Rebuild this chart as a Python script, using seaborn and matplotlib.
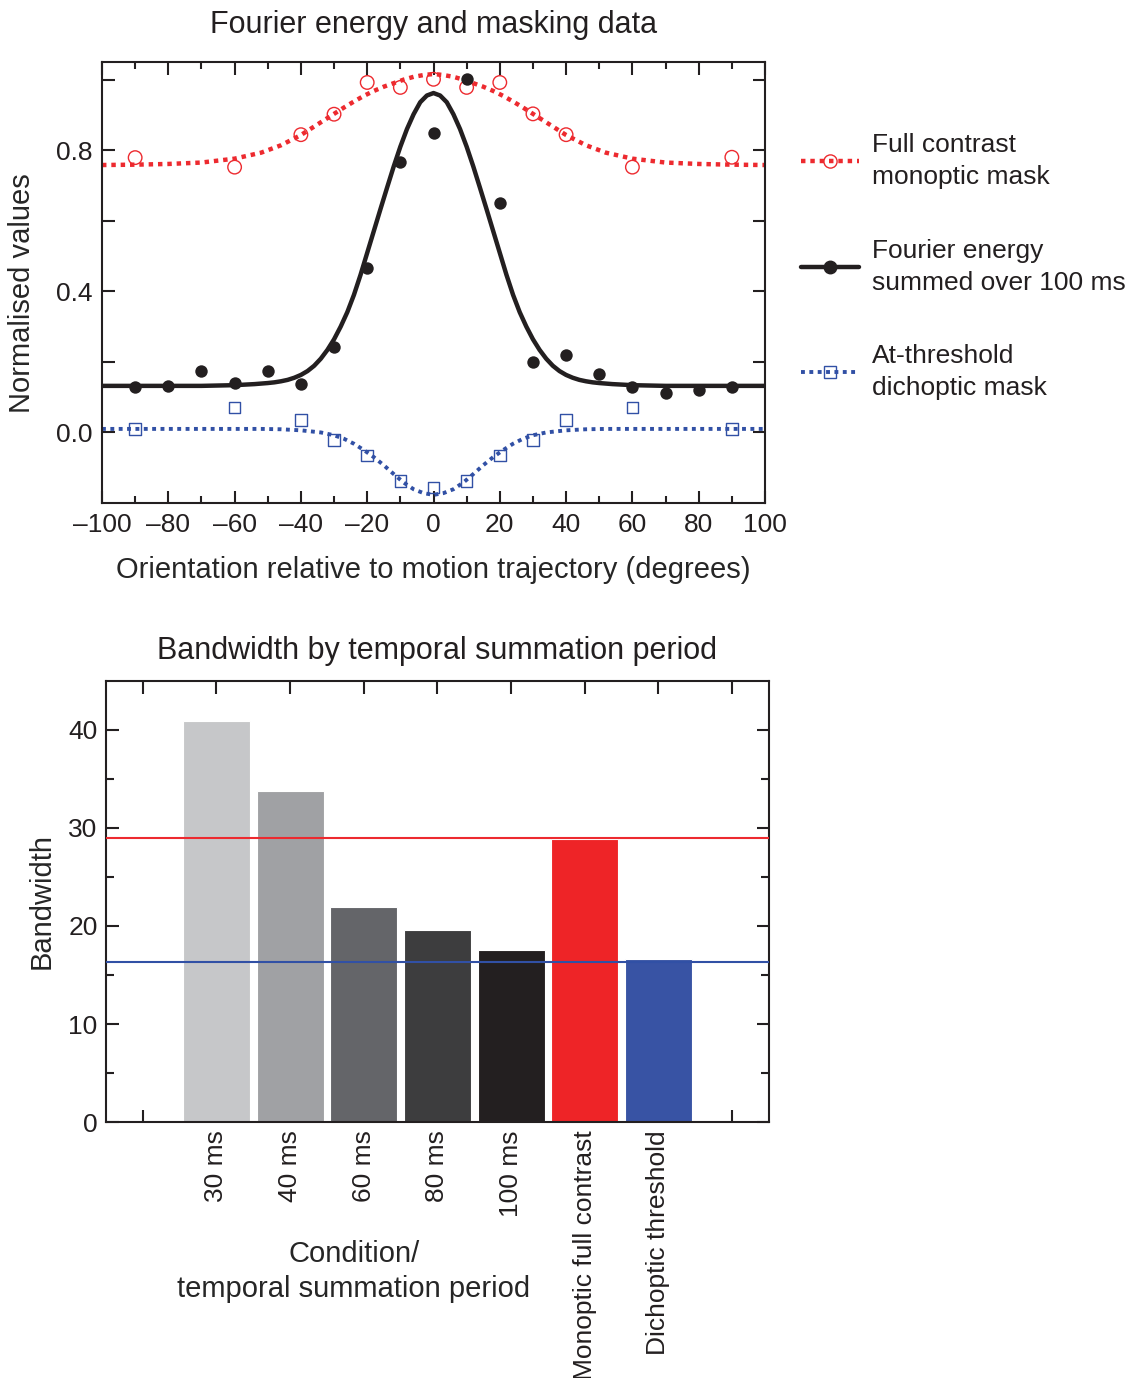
import numpy as np
import pandas as pd
import matplotlib
matplotlib.use("Agg")
import matplotlib.pyplot as plt
import seaborn as sns
from matplotlib.lines import Line2D

# ---------------- data ----------------
# Fitted curves
fourier_curve_x = [-100, -90, -80, -70, -60, -54, -50, -48, -46, -44, -42, -40, -38, -36, -34, -32, -30,
                   -28, -26, -24, -22, -20, -18, -16, -14, -12, -10, -8, -6, -4, -2,
                   0, 2, 4, 6, 8, 10, 12, 14, 16, 18, 20, 22, 24, 26, 28,
                   30, 32, 34, 36, 38, 40, 42, 44, 46, 48, 50, 54, 60, 70, 80, 90, 100]
fourier_curve = [0.132, 0.132, 0.132, 0.132, 0.134, 0.137, 0.140, 0.142, 0.145, 0.149, 0.155, 0.163, 0.174,
                 0.189, 0.209, 0.234, 0.264, 0.300, 0.341, 0.390, 0.447, 0.509, 0.571, 0.633, 0.694, 0.754,
                 0.810, 0.860, 0.902, 0.936, 0.955,
                 0.962, 0.955, 0.936, 0.902, 0.860, 0.810, 0.754, 0.694, 0.633, 0.571, 0.509, 0.447, 0.390,
                 0.341, 0.300, 0.264, 0.234, 0.209, 0.189, 0.174, 0.163, 0.155, 0.149, 0.145, 0.142, 0.140,
                 0.137, 0.134, 0.132, 0.132, 0.132, 0.132]

mask_curve_x = [-100, -90, -80, -70, -60, -52, -46, -40, -34, -30, -27, -24, -21, -18, -15, -12, -9, -6, -3,
                0, 3, 6, 9, 12, 15, 18, 21, 24, 27, 30, 34, 40, 46, 52, 60, 70, 80, 90, 100]
monoptic_curve = [0.758, 0.759, 0.761, 0.765, 0.776, 0.793, 0.814, 0.843, 0.879, 0.903, 0.921, 0.938, 0.954,
                  0.968, 0.980, 0.990, 1.000, 1.008, 1.013,
                  1.016, 1.013, 1.008, 1.000, 0.990, 0.980, 0.968, 0.954, 0.938, 0.921, 0.903, 0.879,
                  0.843, 0.814, 0.793, 0.776, 0.765, 0.761, 0.759, 0.758]
dichoptic_curve = [0.010, 0.010, 0.010, 0.010, 0.010, 0.010, 0.009, 0.006, 0.000, -0.008, -0.018, -0.032, -0.050,
                   -0.070, -0.093, -0.118, -0.142, -0.161, -0.172,
                   -0.177, -0.172, -0.161, -0.142, -0.118, -0.093, -0.070, -0.050, -0.032, -0.018, -0.008,
                   0.000, 0.006, 0.009, 0.010, 0.010, 0.010, 0.010, 0.010, 0.010]

# Data points
fourier_x = [-90, -80, -70, -60, -50, -40, -30, -20, -10, 0, 10, 20, 30, 40, 50, 60, 70, 80, 90]
fourier_y = [0.130, 0.131, 0.175, 0.140, 0.173, 0.137, 0.242, 0.465, 0.766, 0.850, 1.001, 0.650, 0.199,
             0.219, 0.166, 0.130, 0.113, 0.119, 0.130]
mask_x = [-90, -60, -40, -30, -20, -10, 0, 10, 20, 30, 40, 60, 90]
monoptic_y = [0.779, 0.752, 0.844, 0.902, 0.992, 0.978, 1.001, 0.978, 0.992, 0.903, 0.844, 0.752, 0.780]
dichoptic_y = [0.010, 0.071, 0.036, -0.021, -0.065, -0.137, -0.156, -0.137, -0.065, -0.021, 0.036, 0.071, 0.010]

legend_labels = ["Full contrast\nmonoptic mask", "Fourier energy\nsummed over 100 ms",
                 "At-threshold\ndichoptic mask"]

# Bar chart
conditions = ["30 ms", "40 ms", "60 ms", "80 ms", "100 ms", "Monoptic full contrast", "Dichoptic threshold"]
bandwidth = [40.9, 33.8, 21.9, 19.6, 17.55, 28.85, 16.63]
bar_colors = ["#c6c7c9", "#a0a1a4", "#646569", "#3d3d3e", "#231f20", "#ee2427", "#3853a4"]
monoptic_ref = 29.0
dichoptic_ref = 16.33

# ---------------- style ----------------
sns.set_theme(style="ticks")
plt.rcParams["font.family"] = ["Liberation Sans", "DejaVu Sans"]
plt.rcParams["axes.linewidth"] = 1.5
plt.rcParams["axes.edgecolor"] = "#231f20"
plt.rcParams["text.color"] = "#231f20"
plt.rcParams["xtick.color"] = "#231f20"
plt.rcParams["ytick.color"] = "#231f20"

RED = "#ed2a2f"
BLACK = "#231f20"
BLUE = "#3150a5"
TICK_FS = 19
LABEL_FS = 21
TITLE_FS = 22

W, H = 1134, 1378
fig = plt.figure(figsize=(W / 100, H / 100), dpi=100)
ax1 = fig.add_axes([102 / W, 1 - 503 / H, 663 / W, 441 / H])
ax2 = fig.add_axes([106 / W, 1 - 1122 / H, 663 / W, 441 / H])

# ---------------- top panel ----------------
sns.lineplot(x=mask_curve_x, y=monoptic_curve, ax=ax1, color=RED, lw=3.2, sort=False)
ln = ax1.lines[-1]
ln.set_dashes((1, 1.1))
ln.set_dash_capstyle("butt")
sns.lineplot(x=fourier_curve_x, y=fourier_curve, ax=ax1, color=BLACK, lw=3.2, sort=False)
ax1.lines[-1].set_solid_joinstyle("round")
sns.lineplot(x=mask_curve_x, y=dichoptic_curve, ax=ax1, color=BLUE, lw=2.8, sort=False)
ln = ax1.lines[-1]
ln.set_dashes((1, 1.15))
ln.set_dash_capstyle("butt")

sns.scatterplot(x=mask_x, y=monoptic_y, ax=ax1, color=RED, marker="o", s=95, linewidth=1.0, zorder=4)
c = ax1.collections[-1]
c.set_facecolor("none")
c.set_edgecolor(RED)
sns.scatterplot(x=fourier_x, y=fourier_y, ax=ax1, color=BLACK, marker="o", s=80, linewidth=0, zorder=5)
sns.scatterplot(x=mask_x, y=dichoptic_y, ax=ax1, color=BLUE, marker="s", s=70, linewidth=1.0, zorder=4)
c = ax1.collections[-1]
c.set_facecolor("none")
c.set_edgecolor(BLUE)

ax1.set_xlim(-100, 100)
ax1.set_ylim(-0.2, 1.05)
ax1.set_xticks(np.arange(-100, 101, 20))
ax1.set_xticks(np.arange(-90, 100, 20), minor=True)
ax1.set_xticklabels([f"{v}".replace("-", "\u2013") for v in range(-100, 101, 20)])
ax1.set_yticks([0.0, 0.2, 0.4, 0.6, 0.8, 1.0])
ax1.set_yticklabels(["0.0", "", "0.4", "", "0.8", ""])
ax1.tick_params(axis="both", which="major", direction="in", top=True, right=True,
                length=9, width=1.5, labelsize=TICK_FS, pad=7)
ax1.tick_params(axis="x", which="minor", direction="in", top=True, bottom=True,
                length=5, width=1.5)
ax1.set_title("Fourier energy and masking data", fontsize=TITLE_FS, pad=21)
ax1.set_xlabel("Orientation relative to motion trajectory (degrees)", fontsize=LABEL_FS, labelpad=14)
ax1.set_ylabel("Normalised values", fontsize=LABEL_FS, labelpad=14)
ax1.yaxis.label.set_verticalalignment("bottom")
ax1.yaxis.set_label_coords(-0.1207 + 0.021, 0.476)

handles = [
    Line2D([], [], color=RED, lw=3.2, dashes=(1, 1.1), dash_capstyle="butt", marker="o", ms=9.5,
           mfc="none", mec=RED, mew=1.0),
    Line2D([], [], color=BLACK, lw=3.2, marker="o", ms=9, mfc=BLACK, mec=BLACK),
    Line2D([], [], color=BLUE, lw=2.8, dashes=(1, 1.15), dash_capstyle="butt", marker="s", ms=8.5,
           mfc="none", mec=BLUE, mew=1.0),
]
leg = fig.legend(handles, legend_labels, loc="upper left", bbox_to_anchor=(801 / W, 1 - 133 / H),
                 frameon=False, fontsize=TICK_FS, handlelength=2.2, handletextpad=0.5,
                 labelspacing=1.88, borderpad=0, borderaxespad=0)
for t in leg.get_texts():
    t.set_linespacing(1.42)

# ---------------- bottom panel ----------------
df = pd.DataFrame({"condition": conditions, "bandwidth": bandwidth})
sns.barplot(data=df, x="condition", y="bandwidth", hue="condition", palette=bar_colors,
            legend=False, width=0.91, saturation=1, edgecolor="white", linewidth=0.8, ax=ax2)
ax2.axhline(monoptic_ref, color=RED, lw=1.5, zorder=5)
ax2.axhline(dichoptic_ref, color=BLUE, lw=1.5, zorder=5)

ax2.set_xlim(-1.5, 7.5)
ax2.set_ylim(0, 45)
ax2.set_xticks(range(-1, 8))
ax2.set_xticklabels([""] + conditions + [""], rotation=90, va="top", ha="center")
ax2.set_yticks([0, 10, 20, 30, 40])
ax2.set_yticks([5, 15, 25, 35], minor=True)
ax2.tick_params(axis="both", which="major", direction="in", top=True, right=True,
                length=9, width=1.5, labelsize=TICK_FS, pad=6)
ax2.tick_params(axis="y", which="minor", direction="in", left=True, right=True,
                length=5.5, width=1.5)
ax2.set_title("Bandwidth by temporal summation period", fontsize=TITLE_FS, pad=16)
ax2.set_ylabel("Bandwidth", fontsize=LABEL_FS, labelpad=9)
ax2.set_xlabel("Condition/\ntemporal summation period", fontsize=LABEL_FS, linespacing=1.3)
ax2.xaxis.set_label_coords((354 - 106) / 663, (1122 - 1240) / 441)

fig.savefig("out.png", dpi=100)
